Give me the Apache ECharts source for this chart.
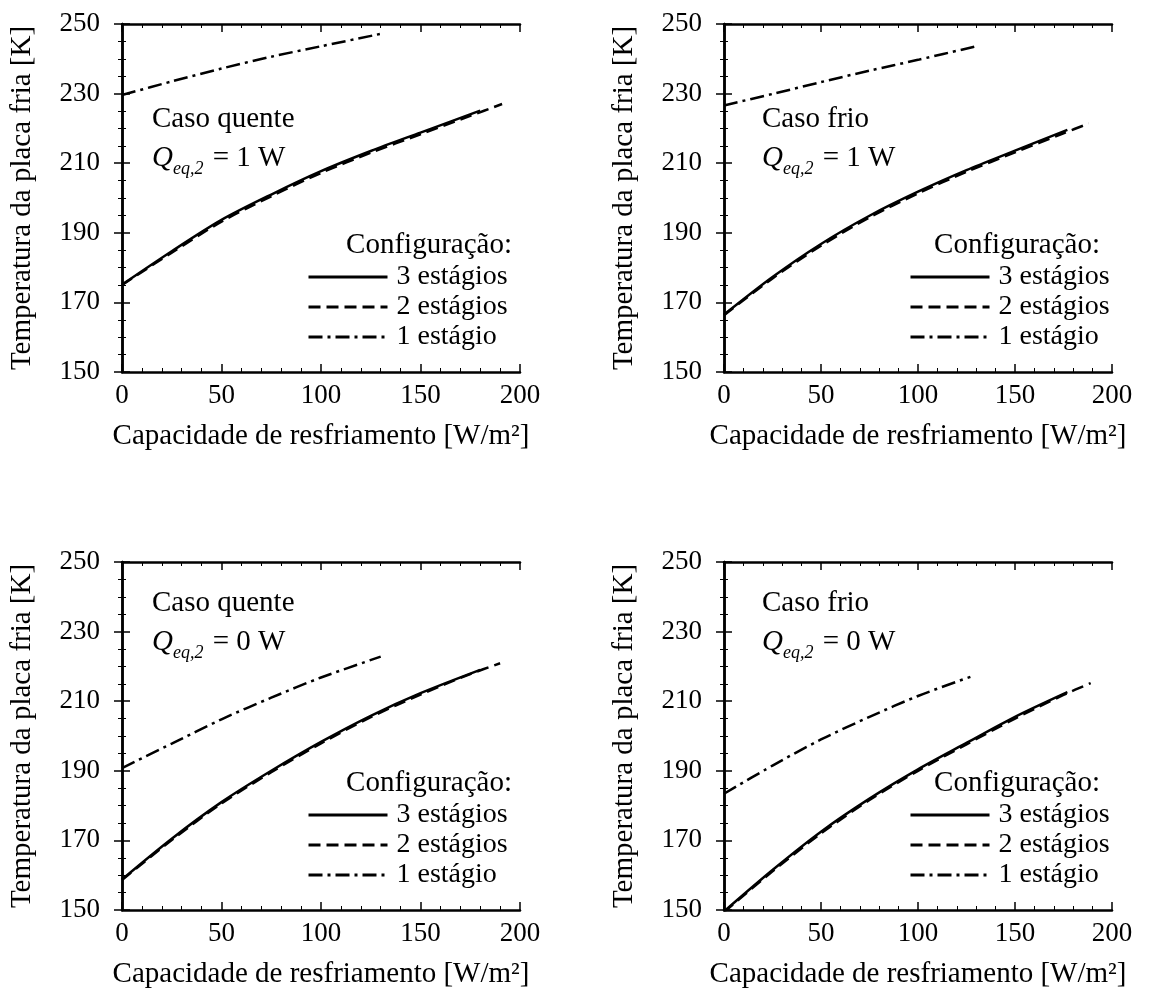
<!DOCTYPE html>
<html>
<head>
<meta charset="utf-8">
<script src="https://cdn.jsdelivr.net/npm/echarts@6/dist/echarts.min.js"></script>
<style>
html,body{margin:0;padding:0;background:#fff;}
#chart{width:1167px;height:994px;}
</style>
</head>
<body>
<div id="chart"></div>
<script>
// ---- Data ----
const xTicks = [0, 50, 100, 150, 200];
const yTicks = [150, 170, 190, 210, 230, 250];
const seriesNames = ['3 estágios', '2 estágios', '1 estágio'];
const caseNames = ['Caso quente', 'Caso frio', 'Caso quente', 'Caso frio'];
const qValues = ['1', '1', '0', '0'];

// Panel 1: Caso quente, Q = 1 W
const x3_p1 = [0, 25, 50, 75, 100, 125, 150, 180];
const y3_p1 = [175.1, 184.7, 193.7, 201.0, 207.7, 213.5, 218.8, 225.1];
const x2_p1 = [0, 25, 50, 75, 100, 125, 150, 175, 191];
const y2_p1 = [175.0, 184.3, 193.2, 200.5, 207.2, 213.0, 218.3, 223.6, 227.0];
const x1_p1 = [0, 25, 50, 75, 100, 132];
const y1_p1 = [229.6, 233.5, 237.2, 240.6, 243.6, 247.4];

// Panel 2: Caso frio, Q = 1 W
const x3_p2 = [0, 25, 50, 75, 100, 125, 150, 177];
const y3_p2 = [166.5, 177.3, 186.8, 194.9, 201.8, 208.0, 213.6, 219.6];
const x2_p2 = [0, 25, 50, 75, 100, 125, 150, 175, 188];
const y2_p2 = [166.3, 176.9, 186.3, 194.4, 201.3, 207.5, 213.1, 218.6, 221.4];
const x1_p2 = [0, 25, 50, 75, 100, 130];
const y1_p2 = [226.6, 229.9, 233.3, 236.6, 239.7, 243.6];

// Panel 3: Caso quente, Q = 0 W
const x3_p3 = [0, 25, 50, 75, 100, 125, 150, 180];
const y3_p3 = [158.8, 170.5, 181.0, 190.0, 198.3, 205.8, 212.3, 219.0];
const x2_p3 = [0, 25, 50, 75, 100, 125, 150, 175, 190];
const y2_p3 = [158.6, 170.1, 180.6, 189.6, 197.9, 205.4, 211.9, 217.8, 220.9];
const x1_p3 = [0, 25, 50, 75, 100, 130];
const y1_p3 = [190.8, 197.8, 204.8, 211.0, 216.8, 222.8];

// Panel 4: Caso frio, Q = 0 W
const x3_p4 = [0, 25, 50, 75, 100, 125, 150, 177];
const y3_p4 = [149.6, 161.5, 172.5, 182.0, 190.4, 198.0, 205.5, 212.6];
const x2_p4 = [0, 25, 50, 75, 100, 125, 150, 175, 189];
const y2_p4 = [149.4, 161.1, 172.0, 181.6, 190.0, 197.6, 205.0, 211.8, 215.2];
const x1_p4 = [0, 25, 50, 75, 100, 127];
const y1_p4 = [183.4, 191.5, 199.0, 205.5, 211.5, 217.0];

const panelData = [
  [[x3_p1, y3_p1], [x2_p1, y2_p1], [x1_p1, y1_p1]],
  [[x3_p2, y3_p2], [x2_p2, y2_p2], [x1_p2, y1_p2]],
  [[x3_p3, y3_p3], [x2_p3, y2_p3], [x1_p3, y1_p3]],
  [[x3_p4, y3_p4], [x2_p4, y2_p4], [x1_p4, y1_p4]]
];

// ---- Layout / style ----
const FONT = 'Liberation Serif';
const FS_TICK = 27;
const FS = 29;
const FS_LEG = 28;
const W = 1167;
const boxes = [
  {l: 122, t: 24, w: 398, h: 348},
  {l: 724, t: 24, w: 388, h: 348},
  {l: 122, t: 562, w: 398, h: 348},
  {l: 724, t: 562, w: 388, h: 348}
];
const legendLeft = [307, 909, 307, 909];
const configRightPad = [8, 12, 8, 12];
const caseLeft = [152, 762, 152, 762];
const caseTop = [100, 100, 584, 584];
const lineTypes = ['solid', [12, 6], [14, 5, 3, 5]];

const chart = echarts.init(document.getElementById('chart'), null, {renderer: 'canvas'});

const grid = [], xAxis = [], yAxis = [], series = [], legend = [], title = [];
const axisLine = {show: true, lineStyle: {color: '#000', width: 2.5}};
const xMin = xTicks[0], xMax = xTicks[xTicks.length - 1];
const yMin = yTicks[0], yMax = yTicks[yTicks.length - 1];
const tick = {show: true, inside: true, length: 8, lineStyle: {color: '#000', width: 1.5}};

boxes.forEach((b, i) => {
  grid.push({left: b.l, top: b.t, width: b.w, height: b.h, containLabel: false});
  xAxis.push({
    type: 'value', gridIndex: i, min: xMin, max: xMax, interval: 50, position: 'bottom',
    axisLine, splitLine: {show: false}, axisTick: tick,
    minorTick: {show: true, splitNumber: 5, length: 4, lineStyle: {color: '#000', width: 1}},
    axisLabel: {show: true, margin: 10, color: '#000', fontFamily: FONT, fontSize: FS_TICK},
    name: 'Capacidade de resfriamento [W/m²]', nameLocation: 'middle', nameGap: 50,
    nameTextStyle: {color: '#000', fontFamily: FONT, fontSize: FS}
  });
  xAxis.push({
    type: 'value', gridIndex: i, min: xMin, max: xMax, interval: 50, position: 'top',
    axisLine, splitLine: {show: false}, axisTick: tick,
    minorTick: {show: true, splitNumber: 5, length: 4, lineStyle: {color: '#000', width: 1}},
    axisLabel: {show: false}
  });
  yAxis.push({
    type: 'value', gridIndex: i, min: yMin, max: yMax, interval: 20, position: 'left',
    axisLine, splitLine: {show: false}, axisTick: tick,
    minorTick: {show: true, splitNumber: 4, length: 4, lineStyle: {color: '#000', width: 1}},
    axisLabel: {show: true, margin: 22, color: '#000', fontFamily: FONT, fontSize: FS_TICK},
    name: 'Temperatura da placa fria [K]', nameLocation: 'middle', nameGap: 85,
    nameTextStyle: {color: '#000', fontFamily: FONT, fontSize: FS}
  });
  yAxis.push({
    type: 'value', gridIndex: i, min: yMin, max: yMax, interval: 20, position: 'right',
    axisLine, splitLine: {show: false}, axisTick: tick,
    minorTick: {show: true, splitNumber: 4, length: 4, lineStyle: {color: '#000', width: 1}},
    axisLabel: {show: false}
  });

  panelData[i].forEach((pair, k) => {
    const [xs, ys] = pair;
    series.push({
      type: 'line', name: seriesNames[k],
      xAxisIndex: 2 * i, yAxisIndex: 2 * i,
      data: xs.map((x, j) => [x, ys[j]]),
      symbol: 'none', showSymbol: false, smooth: 0.3,
      clip: true,
      lineStyle: {color: '#000', width: 2.5, type: lineTypes[k]},
      itemStyle: {color: '#000'},
      z: 3 - k
    });
  });

  legend.push({
    data: seriesNames, orient: 'vertical',
    left: legendLeft[i], top: b.t + 239,
    itemWidth: 79, itemHeight: 2, itemGap: 2, padding: 0,
    selectedMode: false,
    itemStyle: {color: 'rgba(0,0,0,0)', borderWidth: 0, opacity: 0},
    lineStyle: {width: 3},
    textStyle: {color: '#000', fontFamily: FONT, fontSize: FS_LEG, padding: [0, 0, 0, 4]}
  });

  title.push({
    text: 'Configuração:', padding: 0,
    right: W - (b.l + b.w - configRightPad[i]), top: b.t + 207,
    textStyle: {color: '#000', fontFamily: FONT, fontSize: FS, fontWeight: 'normal'}
  });

  title.push({
    text: '{a|' + caseNames[i] + '}\n{q|Q}{s|eq,2}{a| = ' + qValues[i] + ' W}',
    padding: 0,
    left: caseLeft[i], top: caseTop[i],
    textStyle: {
      color: '#000', fontFamily: FONT, fontSize: FS, fontWeight: 'normal', lineHeight: 39,
      rich: {
        a: {color: '#000', fontFamily: FONT, fontSize: FS, lineHeight: 39},
        q: {color: '#000', fontFamily: FONT, fontSize: FS, fontStyle: 'italic', lineHeight: 39},
        s: {color: '#000', fontFamily: FONT, fontSize: 18, fontStyle: 'italic', verticalAlign: 'bottom', lineHeight: 39, padding: [0, 2, 0, 0]}
      }
    }
  });
});

chart.setOption({
  animation: false,
  backgroundColor: '#fff',
  grid, xAxis, yAxis, series, legend, title
});
</script>
</body>
</html>
